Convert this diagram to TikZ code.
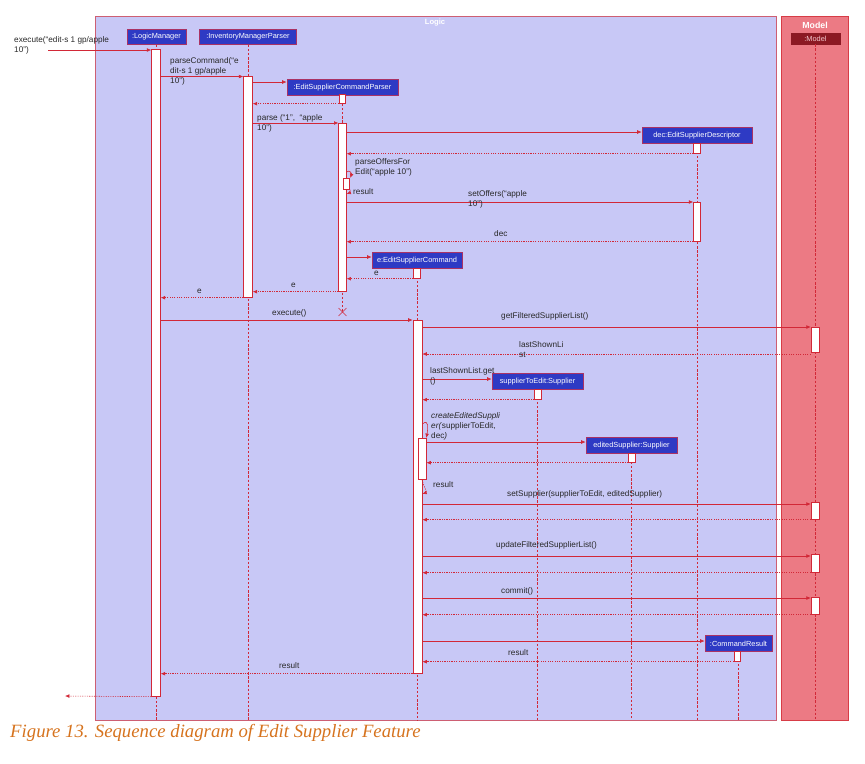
\documentclass[tikz,border=0pt]{standalone}
\usepackage{fontspec}
\setmainfont{Liberation Serif}
\setsansfont{Liberation Sans}
\usetikzlibrary{arrows.meta, shapes.misc, positioning}

\definecolor{logicfill}{RGB}{200,200,246}
\definecolor{logicline}{RGB}{205,95,115}
\definecolor{modelfill}{RGB}{236,122,132}
\definecolor{modelline}{RGB}{215,60,70}
\definecolor{boxblue}{RGB}{46,58,196}
\definecolor{boxline}{RGB}{170,50,100}
\definecolor{modelbox}{RGB}{140,25,35}
\definecolor{seqred}{RGB}{210,40,55}
\definecolor{lbltext}{RGB}{40,40,40}
\definecolor{capcolor}{RGB}{214,115,30}

\tikzset{
  part/.style={draw=boxline, fill=boxblue, text=white, font=\sffamily\fontsize{6.3}{7}\selectfont,
    minimum height=4.7mm, inner sep=1pt, line width=0.6pt},
  act/.style={draw=seqred, fill=white, line width=0.6pt, minimum width=2mm, anchor=north, inner sep=0pt},
  lifeline/.style={draw=seqred, line width=0.6pt, dash pattern=on 2pt off 1.5pt},
  msg/.style={draw=seqred, line width=0.5pt, -{Latex[length=3.8pt,width=3.2pt]}},
  ret/.style={msg, dash pattern=on 1pt off 1pt},
  lbl/.style={font=\sffamily\fontsize{7}{8.5}\selectfont, text=lbltext, align=left, inner sep=0pt, anchor=west},
  frametitle/.style={font=\sffamily\bfseries\fontsize{6.5}{7}\selectfont, text=white, inner sep=0pt}
}
\newcommand{\actbar}[5][]{\node[act, #1, minimum height={(#5-#4)*0.3mm}] (#2) at (#3,#4) {};}

\begin{document}
\begin{tikzpicture}[x=0.3mm, y=-0.3mm]
\useasboundingbox (0,0) rectangle (865,763);

%% frames
\filldraw[draw=logicline, fill=logicfill, line width=0.6pt] (95,16) rectangle (776,720);
\filldraw[draw=modelline, fill=modelfill, line width=0.6pt] (781,16) rectangle (848,720);
\node[frametitle] (logictitle) at (435,22.5) {Logic};
\node[frametitle, font=\sffamily\bfseries\fontsize{7.5}{8}\selectfont] (modeltitle) at (815,25.5) {Model};

%% participants
\node[part, minimum width=17.7mm] (lm) at (156.5,36.7) {:LogicManager};
\node[part, minimum width=29mm] (imp) at (248,36.7) {:InventoryManagerParser};
\node[part, minimum width=33.3mm] (escp) at (342.5,87.5) {:EditSupplierCommandParser};
\node[part, minimum width=33mm] (dec) at (697,135.5) {dec:EditSupplierDescriptor};
\node[part, minimum width=27mm] (esc) at (417,260.5) {e:EditSupplierCommand};
\node[part, minimum width=27.3mm] (ste) at (537.5,381.5) {supplierToEdit:Supplier};
\node[part, minimum width=27.3mm] (eds) at (631.5,445.5) {editedSupplier:Supplier};
\node[part, minimum width=20.1mm] (cr) at (738.5,643.5) {:CommandResult};
\node[part, fill=modelbox, draw=modelbox, text={rgb,255:red,245;green,200;blue,205},
  minimum width=14.7mm, minimum height=3.3mm] (model) at (815.5,38.5) {:Model};

%% lifelines
\draw[lifeline] (lm.south) -- (lm.south |- 0,720);
\draw[lifeline] (imp.south) -- (imp.south |- 0,720);
\node[draw=seqred, cross out, minimum size=2.2mm, inner sep=0pt, line width=0.5pt] (escpx) at (342.5,312) {};
\draw[lifeline] (escp.south) -- (escpx.center);
\draw[lifeline] (dec.south) -- (dec.south |- 0,720);
\draw[lifeline] (esc.south) -- (esc.south |- 0,720);
\draw[lifeline] (ste.south) -- (ste.south |- 0,720);
\draw[lifeline] (eds.south) -- (eds.south |- 0,720);
\draw[lifeline] (cr.south) -- (cr.south |- 0,720);
\draw[lifeline] (model.south) -- (model.south |- 0,720);

%% activation bars
\actbar[minimum width=2.6mm]{lmact}{156}{49}{696}
\actbar[minimum width=2.6mm]{impact}{248}{76}{297}
\actbar{escpact1}{342.5}{94.3}{103}
\actbar[minimum width=2.2mm]{escpact2}{342.5}{123}{291}
\actbar{escpact3}{346.5}{178}{189}
\actbar{decact1}{697}{143}{153}
\actbar{decact2}{697}{202}{241}
\actbar{escact1}{417}{268}{278}
\actbar[minimum width=2.7mm]{escact2}{417.5}{320}{673}
\actbar[minimum width=2.4mm]{escact3}{422}{438}{479}
\actbar{steact}{538}{389}{399}
\actbar{edsact}{632}{453}{462}
\actbar{cract}{737.5}{651}{661}
\actbar[minimum width=2.6mm]{modact1}{815.5}{327}{352}
\actbar[minimum width=2.6mm]{modact2}{815.5}{502}{519}
\actbar[minimum width=2.6mm]{modact3}{815.5}{554}{572}
\actbar[minimum width=2.6mm]{modact4}{815.5}{597}{614}

%% messages
\coordinate (caller) at (48,50);
\coordinate (callerret) at (65,696);
\draw[msg] (caller) -- (lmact.west |- caller);
\draw[msg] (lmact.east |- 0,76.5) -- (impact.west |- 0,76.5);
\draw[msg] (impact.east |- 0,82) -- (escp.west |- 0,82);
\draw[ret] (escpact1.south west) -- (impact.east |- escpact1.south west);
\draw[msg] (impact.east |- escpact2.north) -- (escpact2.north west);
\draw[msg] (escpact2.east |- 0,132) -- (dec.west |- 0,132);
\draw[ret] (decact1.south west) -- (escpact2.east |- decact1.south west);
\draw[msg] (escpact2.east |- 0,172) to[out=40, in=70, looseness=1.6] (escpact3.north east);
\draw[ret] (escpact3.south east) to[out=-70, in=20] (escpact2.east |- 0,194);
\draw[msg] (escpact2.east |- decact2.north) -- (decact2.north west);
\draw[ret] (decact2.south west) -- (escpact2.east |- decact2.south west);
\draw[msg] (escpact2.east |- 0,257) -- (esc.west |- 0,257);
\draw[ret] (escact1.south west) -- (escpact2.east |- escact1.south west);
\draw[ret] (escpact2.south west) -- (impact.east |- escpact2.south west);
\draw[ret] (impact.south west) -- (lmact.east |- impact.south west);
\draw[msg] (lmact.east |- escact2.north) -- (escact2.north west);
\draw[msg] (escact2.east |- modact1.north) -- (modact1.north west);
\draw[ret] (modact1.west |- 0,354) -- (escact2.east |- 0,354);
\draw[msg] (escact2.east |- 0,379) -- (ste.west |- 0,379);
\draw[ret] (steact.south west) -- (escact2.east |- steact.south west);
\draw[msg] (escact2.east |- 0,424) to[out=40, in=80, looseness=1.6] (escact3.north east);
\draw[msg] (escact3.east |- 0,442) -- (eds.west |- 0,442);
\draw[ret] (edsact.south west) -- (escact3.east |- edsact.south west);
\draw[ret] (escact3.south) to[out=-80, in=20] (escact2.east |- 0,494);
\draw[msg] (escact2.east |- 0,504) -- (modact2.west |- 0,504);
\draw[ret] (modact2.south west) -- (escact2.east |- modact2.south west);
\draw[msg] (escact2.east |- 0,556) -- (modact3.west |- 0,556);
\draw[ret] (modact3.south west) -- (escact2.east |- modact3.south west);
\draw[msg] (escact2.east |- 0,598) -- (modact4.west |- 0,598);
\draw[ret] (modact4.south west) -- (escact2.east |- modact4.south west);
\draw[msg] (escact2.east |- 0,641) -- (cr.west |- 0,641);
\draw[ret] (cract.south west) -- (escact2.east |- cract.south west);
\draw[ret] (escact2.south west) -- (lmact.east |- escact2.south west);
\draw[ret] (lmact.south west) -- (callerret);

%% message labels
\node[lbl] (lexec) at (14,45.5) {execute(“edit-s 1 gp/apple\\10”)};
\node[lbl] (lparsecmd) at (170,71) {parseCommand(“e\\dit-s 1 gp/apple\\10”)};
\node[lbl] (lparse) at (257,123) {parse (“1”,~~“apple\\10”)};
\node[lbl] (loffers) at (355,167) {parseOffersFor\\Edit(“apple 10”)};
\node[lbl] (lres1) at (353,192) {result};
\node[lbl] (lsetoff) at (468,199) {setOffers(“apple\\10”)};
\node[lbl] (ldec) at (494,234) {dec};
\node[lbl] (le1) at (374,273) {e};
\node[lbl] (le2) at (291,285) {e};
\node[lbl] (le3) at (197,291) {e};
\node[lbl] (lexecute) at (272,313) {execute()};
\node[lbl] (lgetlist) at (501,316) {getFilteredSupplierList()};
\node[lbl] (llast) at (519,350) {lastShownLi\\st};
\node[lbl] (lget) at (430,376) {lastShownList.get\\()};
\node[lbl] (lcreate) at (431,426) {\textit{createEditedSuppli}\\\textit{er(}supplierToEdit,\\dec\textit{)}};
\node[lbl] (lres2) at (433,485) {result};
\node[lbl] (lsetsup) at (507,494) {setSupplier(supplierToEdit, editedSupplier)};
\node[lbl] (lupdate) at (496,545) {updateFilteredSupplierList()};
\node[lbl] (lcommit) at (501,591) {commit()};
\node[lbl] (lres3) at (508,653) {result};
\node[lbl] (lres4) at (279,666) {result};

%% caption
\node[anchor=west, inner sep=0pt, text=capcolor, font=\itshape\fontsize{16}{18}\selectfont] (caption) at (10,733)
  {Figure 13. Sequence diagram of Edit Supplier Feature};
\end{tikzpicture}
\end{document}
